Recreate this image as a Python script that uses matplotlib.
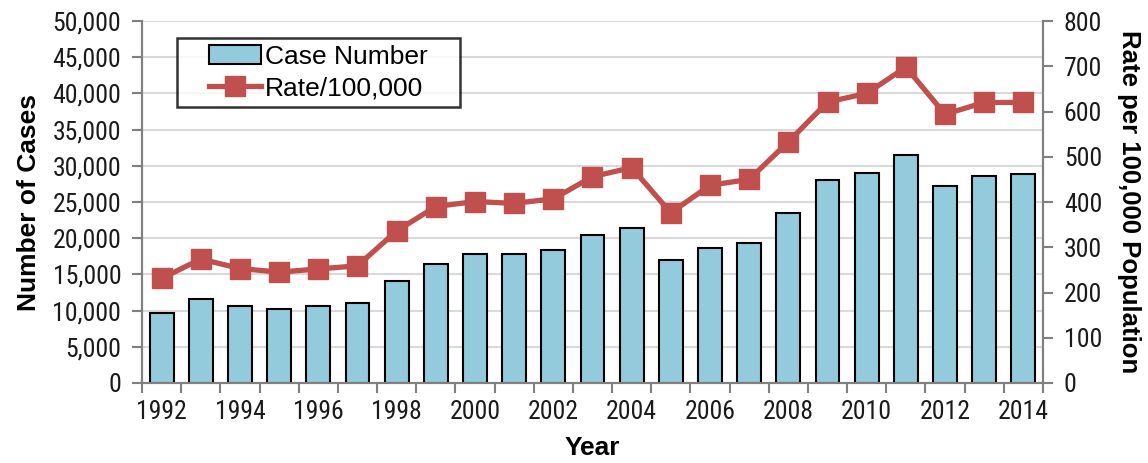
import numpy as np
import matplotlib
matplotlib.use("Agg")
from matplotlib import pyplot as plt
from matplotlib import font_manager
from matplotlib.legend_handler import HandlerLine2D, HandlerPatch
from matplotlib.ticker import FuncFormatter

years = list(range(1992, 2015))
cases = [9700, 11550, 10650, 10250, 10650, 11000, 14150, 16450, 17800, 17750,
         18400, 20450, 21450, 17000, 18700, 19300, 23500, 28100, 29050, 31550,
         27250, 28650, 28850]
rates = [231, 274, 253, 245, 252, 259, 336, 390, 401, 397,
         407, 456, 476, 376, 437, 450, 533, 621, 640, 698,
         594, 620, 620]
left_ticks = list(range(0, 50001, 5000))
right_ticks = list(range(0, 801, 100))

# look for a narrow font for the tick labels
def pick_narrow():
    cands = []
    for f in font_manager.fontManager.ttflist:
        nm = f.name
        narrowish = ("Narrow" in nm or "Condensed" in nm or
                     f.stretch in ("condensed", "semi-condensed", "extra-condensed"))
        if not narrowish or f.style != "normal":
            continue
        if f.weight not in (400, "normal", "regular", "book"):
            continue
        if "Mono" in nm or "Serif" in nm:
            continue
        rank = 5
        for i, key in enumerate(["Liberation Sans Narrow", "Roboto Condensed",
                                 "Open Sans Condensed", "Noto Sans", "DejaVu Sans"]):
            if nm.startswith(key):
                rank = i
                break
        cands.append((rank, f.fname))
    if cands:
        cands.sort()
        return font_manager.FontProperties(fname=cands[0][1]), True
    return font_manager.FontProperties(family=["Liberation Sans", "DejaVu Sans"]), False

tick_fp, found = pick_narrow()
tick_size = 18.5 if found else 15
bold = ["Liberation Sans", "DejaVu Sans"]

fig = plt.figure(figsize=(11.48, 4.63), dpi=100)
ax = fig.add_axes([0.1237, 0.1728, 0.7848, 0.7818])
ax2 = ax.twinx()

x = np.arange(len(years))
bars = ax.bar(x, cases, width=0.61, color="#94CBDC", edgecolor="black",
              linewidth=1.5, zorder=3, label="Case Number")
line, = ax2.plot(x, rates, color="#C0504D", linewidth=3.8, marker="s",
                 markersize=15, zorder=4, label="Rate/100,000")

ax.set_xlim(-0.5, len(years) - 0.5)
ax.set_ylim(0, 50000)
ax2.set_ylim(0, 800)
ax.set_yticks(left_ticks)
ax2.set_yticks(right_ticks)
ax.yaxis.set_major_formatter(FuncFormatter(lambda v, p: f"{int(v):,}"))
ax.grid(axis="y", color="#D9D9D9", linewidth=1.5, zorder=0)
ax.set_axisbelow(True)

# year labels every other year, tick marks between categories
ax.set_xticks(x[::2])
ax.set_xticklabels([str(y) for y in years[::2]])
ax.set_xticks(np.arange(-0.5, len(years), 1), minor=True)
ax.tick_params(axis="x", which="major", length=0, pad=12)
ax.tick_params(axis="x", which="minor", length=7, width=1.5, color="#808080")

for a in (ax, ax2):
    a.spines["top"].set_visible(False)
    for s in ("left", "right", "bottom"):
        a.spines[s].set_color("#808080")
        a.spines[s].set_linewidth(1.5)
ax.tick_params(axis="y", length=7, width=1.5, color="#808080", pad=8)
ax2.tick_params(axis="y", length=7, width=1.5, color="#808080", pad=8)

for lab in ax.get_xticklabels() + ax.get_yticklabels() + ax2.get_yticklabels():
    lab.set_fontproperties(tick_fp)
    lab.set_fontsize(tick_size)
    lab.set_color("#1a1a1a")

ax.set_ylabel("Number of Cases", family=bold, fontsize=19, fontweight="bold", labelpad=8)
ax.set_xlabel("Year", family=bold, fontsize=19, fontweight="bold", labelpad=9)
ax2.set_ylabel("Rate per 100,000 Population", family=bold, fontsize=18.5,
               fontweight="bold", rotation=-90, labelpad=28)

# legend: handles set in from the frame, frame stretched to the right
hpad = 0.95
bar_handle = bars.patches[0]
leg = ax.legend([bar_handle, line], ["Case Number", "Rate/100,000"],
                loc="upper left", bbox_to_anchor=(0.0388, 0.953, 0.314, 0.0),
                mode="expand", prop={"family": bold, "size": 19},
                frameon=True, fancybox=False, edgecolor="black",
                handlelength=2.95, handletextpad=0.15,
                borderpad=0.25, labelspacing=0.3, borderaxespad=0,
                handler_map={bar_handle: HandlerPatch(xpad=hpad),
                             line: HandlerLine2D(xpad=hpad)})
leg.get_frame().set_linewidth(1.8)
leg.set_zorder(10)

fig.savefig("out.png", dpi=100)
